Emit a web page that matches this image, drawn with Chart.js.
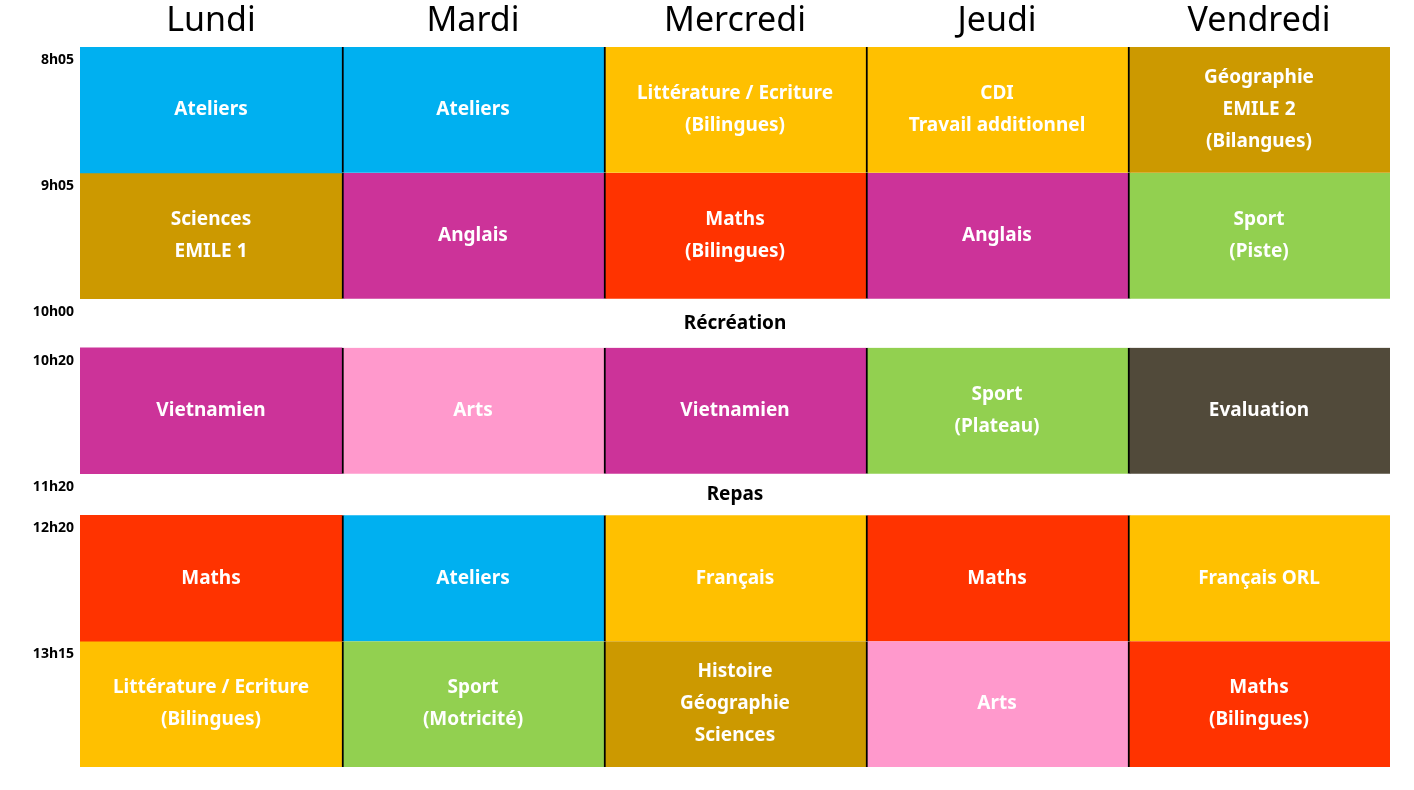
<!DOCTYPE html>
<html><head><meta charset="utf-8">
<script src="https://cdn.jsdelivr.net/npm/chart.js@4"></script>
<style>body{margin:0;background:#fff}</style>
</head><body>
<canvas id="c" width="1414" height="790"></canvas>
<script>
const days = ['Lundi', 'Mardi', 'Mercredi', 'Jeudi', 'Vendredi'];
// slot boundaries in row units (top, bottom)
const slots = [[0, 1], [1, 2], [2.39, 3.39], [3.72, 4.72], [4.72, 5.72]];
const slotTimes = ['8h05', '9h05', '10h20', '12h20', '13h15'];
const breaks = [{ at: 2, end: 2.39, time: '10h00', label: 'Récréation' },
                { at: 3.39, end: 3.72, time: '11h20', label: 'Repas' }];
const lessons = [
  ['Ateliers', 'Ateliers', 'Littérature / Ecriture\n(Bilingues)', 'CDI\nTravail additionnel', 'Géographie\nEMILE 2\n(Bilangues)'],
  ['Sciences\nEMILE 1', 'Anglais', 'Maths\n(Bilingues)', 'Anglais', 'Sport\n(Piste)'],
  ['Vietnamien', 'Arts', 'Vietnamien', 'Sport\n(Plateau)', 'Evaluation'],
  ['Maths', 'Ateliers', 'Français', 'Maths', 'Français ORL'],
  ['Littérature / Ecriture\n(Bilingues)', 'Sport\n(Motricité)', 'Histoire\nGéographie\nSciences', 'Arts', 'Maths\n(Bilingues)']
];
const C = { blue: '#00B0F0', orange: '#FFC000', gold: '#CC9900', mag: '#CC3399', red: '#FF3300', green: '#92D050', pink: '#FF99CC', dark: '#514A3A' };
const colors = [
  [C.blue, C.blue, C.orange, C.orange, C.gold],
  [C.gold, C.mag, C.red, C.mag, C.green],
  [C.mag, C.pink, C.mag, C.green, C.dark],
  [C.red, C.blue, C.orange, C.red, C.orange],
  [C.orange, C.green, C.gold, C.pink, C.red]
];

const datasets = slots.map((s, i) => ({
  data: days.map(() => [s[0], s[1]]),
  backgroundColor: colors[i],
  borderColor: '#000',
  borderWidth: days.map((d, j) => ({ left: j === 0 ? 0 : 2, right: 0, top: 0, bottom: 0 })),
  borderSkipped: false,
  barPercentage: 1,
  categoryPercentage: 1,
  labels: lessons[i]
}));

const textPlugin = {
  id: 'texts',
  afterDatasetsDraw(chart) {
    const ctx = chart.ctx, x = chart.scales.x, y = chart.scales.y, area = chart.chartArea;
    ctx.save();
    ctx.textAlign = 'center'; ctx.textBaseline = 'middle';
    // headers
    ctx.fillStyle = '#000'; ctx.font = '34px "Noto Sans"';
    days.forEach((d, j) => ctx.fillText(d, x.getPixelForValue(j), 21));
    // lesson labels
    ctx.fillStyle = '#fff'; ctx.font = 'bold 19px "Noto Sans"';
    datasets.forEach((ds, i) => {
      const cy = y.getPixelForValue((slots[i][0] + slots[i][1]) / 2);
      ds.labels.forEach((t, j) => {
        const lines = t.split('\n');
        lines.forEach((l, k) => ctx.fillText(l, x.getPixelForValue(j), cy + (k - (lines.length - 1) / 2) * 32));
      });
    });
    // break labels
    ctx.fillStyle = '#000';
    breaks.forEach(b => ctx.fillText(b.label, (area.left + area.right) / 2, y.getPixelForValue((b.at + b.end) / 2)));
    // time labels
    ctx.textAlign = 'right'; ctx.font = 'bold 14px "Noto Sans"';
    slots.forEach((s, i) => ctx.fillText(slotTimes[i], area.left - 6, y.getPixelForValue(s[0]) + 13));
    breaks.forEach(b => ctx.fillText(b.time, area.left - 6, y.getPixelForValue(b.at) + 13));
    ctx.restore();
  }
};

new Chart(document.getElementById('c'), {
  type: 'bar',
  data: { labels: days, datasets },
  options: {
    responsive: false,
    animation: false,
    layout: { padding: { left: 80, right: 24, top: 47, bottom: 23 } },
    plugins: { legend: { display: false }, tooltip: { enabled: false } },
    scales: {
      x: { stacked: true, display: false },
      y: { display: false, min: 0, max: 5.72, reverse: true }
    }
  },
  plugins: [textPlugin]
});
</script>
</body></html>
